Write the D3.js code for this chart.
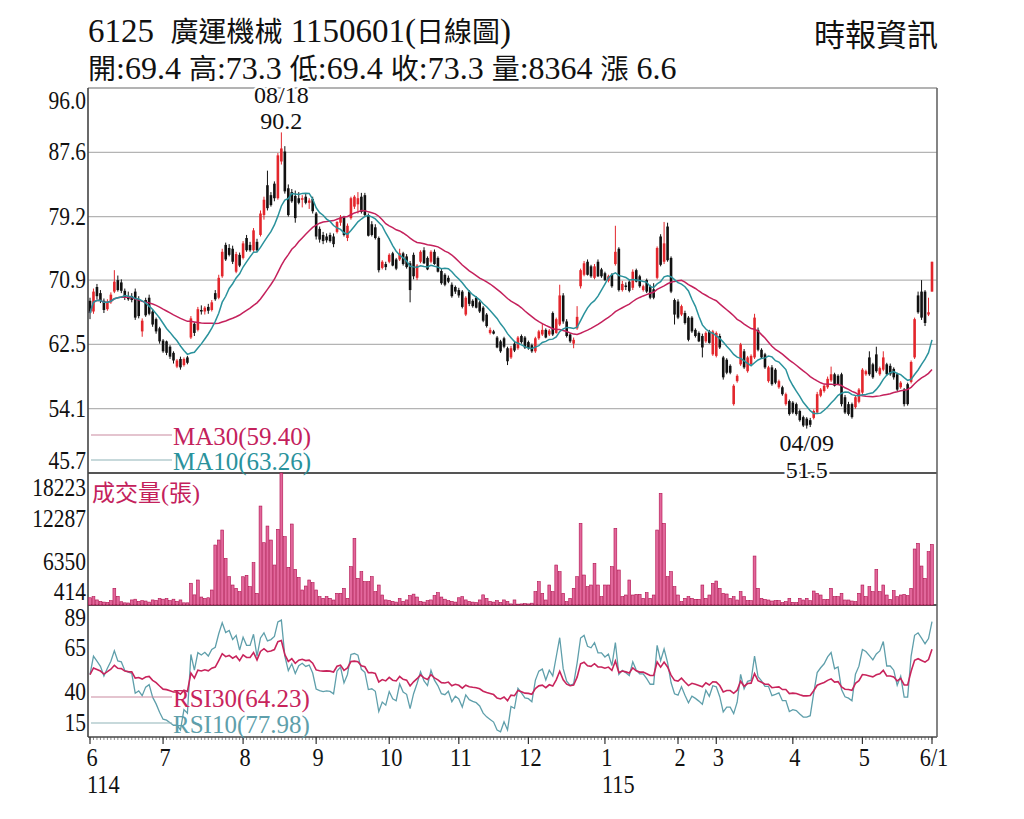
<!DOCTYPE html>
<html>
<head>
<meta charset="utf-8">
<script src="https://cdn.jsdelivr.net/npm/d3@7"></script>
<style>
  body { margin: 0; background: #fff; }
  svg { display: block; }
  text { font-family: "Liberation Serif", "Noto Sans CJK TC", serif; white-space: pre; }
</style>
</head>
<body>
<svg id="chart" width="1024" height="819"></svg>
<script>
// daily [open, high, low, close], 114/06/02 .. 115/06/01
var candles = [
  // 6
  [68.2,68.6,65.8,66.6],[66.8,69.8,66.5,69.4],[70.0,70.4,68.4,68.8],[69.2,69.6,67.9,68.2],[68.2,68.5,66.6,67.0],
  [67.1,68.4,66.9,68.0],[68.0,69.3,67.8,69.0],[69.4,72.2,69.2,70.7],[70.9,71.5,69.4,69.6],[70.6,71.0,69.2,69.5],
  [69.5,69.8,68.3,68.6],[68.8,69.4,68.2,68.4],[68.8,69.2,68.0,68.3],[69.4,69.8,65.7,66.0],[68.4,68.8,65.9,66.2],
  [64.2,65.9,63.5,65.6],[68.3,68.6,66.1,66.3],[68.6,69.0,66.3,66.5],[66.8,67.1,64.8,65.1],[65.8,66.0,63.9,64.2],
  [64.6,64.8,62.6,62.9],
  // 7
  [63.0,63.2,61.4,61.6],[62.9,63.0,61.1,61.4],[62.2,62.4,60.6,60.9],[61.4,61.6,60.0,60.4],[59.6,60.6,59.4,60.4],
  [60.6,60.9,59.2,59.5],[59.8,60.8,59.6,60.6],[60.8,61.0,59.9,60.1],[63.4,66.2,63.2,65.9],[65.2,65.4,63.6,64.0],
  [64.4,67.4,64.2,67.1],[67.0,67.6,66.4,66.8],[66.8,67.5,66.4,67.3],[67.4,67.8,66.5,66.9],[67.0,68.3,66.8,68.0],
  [69.2,69.6,68.2,68.4],[68.6,71.6,68.4,71.2],[71.4,75.0,71.2,74.6],[75.5,75.8,73.4,73.6],[75.1,75.6,74.0,74.2],
  [75.0,75.4,73.0,73.3],[72.0,74.6,71.8,74.3],[74.2,74.5,72.6,72.8],
  // 8
  [73.8,76.0,73.6,75.7],[76.4,76.8,74.6,74.8],[75.5,75.9,74.6,74.8],[74.8,77.7,74.6,77.4],[75.9,76.3,74.6,74.8],
  [76.8,80.0,76.6,79.6],[79.4,81.8,78.8,81.4],[83.3,85.2,80.0,80.3],[82.0,82.4,80.5,80.7],[83.5,83.8,81.2,81.6],
  [81.6,87.5,81.4,87.2],[86.4,90.2,86.0,88.1],[87.7,88.4,82.2,82.5],[82.9,83.4,79.2,79.4],[82.4,82.8,81.0,81.2],
  [81.9,82.6,78.4,79.0],[81.6,82.4,80.8,81.0],[81.4,82.0,80.4,81.6],[81.8,82.2,80.8,81.0],[81.0,81.6,80.2,81.3],
  [81.5,81.8,79.6,79.9],
  // 9
  [79.6,79.8,76.2,76.6],[77.6,77.9,75.8,76.2],[76.8,77.2,75.6,76.0],[76.6,77.0,75.8,76.1],[76.8,77.1,75.8,76.0],
  [76.6,77.0,75.2,75.6],[77.2,78.6,77.0,78.5],[78.4,79.4,78.0,79.1],[79.1,79.3,76.6,76.8],[76.4,78.3,76.0,78.0],
  [79.0,81.8,78.8,81.6],[80.5,82.0,80.2,81.8],[80.8,82.4,79.6,81.6],[81.8,82.3,79.6,79.8],[82.0,82.3,79.2,79.4],
  [79.4,79.6,76.6,76.7],[78.2,78.6,76.6,76.8],[77.8,78.2,76.2,76.4],[76.4,76.6,71.9,72.2],[72.5,73.5,72.3,73.3],
  [73.0,73.3,72.2,72.6],
  // 10
  [73.3,74.4,73.1,74.2],[74.4,74.6,72.7,72.8],[73.6,73.8,72.2,72.4],[73.6,75.0,73.4,74.4],[74.4,74.6,72.8,73.0],
  [74.0,74.3,72.4,72.6],[73.1,73.4,68.0,69.6],[74.2,74.5,71.0,71.4],[71.2,73.0,70.9,72.8],[73.3,74.8,73.1,74.6],
  [74.8,75.2,73.0,73.1],[73.8,74.0,72.2,72.3],[73.3,74.8,73.1,74.6],[74.6,74.9,72.9,73.0],[73.8,74.0,71.9,72.0],
  [72.1,72.4,70.3,70.5],[71.6,71.8,70.1,70.3],[71.2,71.5,70.5,70.7],[70.3,70.6,68.6,68.8],[70.0,70.2,69.1,69.4],
  // 11
  [69.6,69.9,68.6,68.9],[69.4,69.6,67.2,67.4],[66.4,68.8,66.2,68.6],[69.4,69.6,67.5,67.8],[68.2,68.4,67.3,67.5],
  [68.6,68.8,67.2,67.3],[68.0,68.2,66.6,66.8],[67.3,67.5,65.4,65.6],[66.4,66.6,64.7,64.9],[64.0,64.7,63.8,64.4],
  [64.2,64.4,63.8,63.9],[63.4,63.6,62.0,62.1],[62.9,63.1,61.4,61.6],[63.3,63.5,62.0,62.2],[62.0,62.2,59.8,60.3],
  [60.8,62.3,60.6,62.0],[62.6,62.8,61.5,61.7],[62.0,63.6,61.8,63.4],[63.6,63.8,62.6,62.8],[63.4,63.6,61.9,62.1],
  // 12
  [62.8,63.0,61.8,62.0],[62.4,62.6,61.4,61.6],[61.6,63.5,61.4,63.3],[63.3,64.4,63.1,64.2],[63.8,65.3,63.6,64.4],
  [64.4,64.6,63.3,63.4],[63.8,64.5,63.6,64.3],[66.6,66.8,63.6,63.8],[64.0,66.0,63.9,65.8],[65.1,70.3,64.9,68.9],
  [68.9,69.2,65.2,65.5],[65.5,65.8,63.4,63.6],[63.8,64.0,62.7,62.9],[62.6,63.4,62.0,63.1],[64.6,67.5,64.4,66.1],
  [70.1,72.4,69.8,72.2],[71.6,73.4,71.4,73.1],[73.3,73.6,71.5,71.6],[72.7,72.9,71.2,71.4],[71.2,73.0,71.0,72.7],
  [73.3,73.6,71.3,71.4],[72.3,72.5,71.2,71.4],
  // 1
  [71.8,72.0,70.8,70.9],[70.8,71.6,70.6,71.4],[71.6,71.8,69.9,70.1],[73.0,78.0,72.8,74.6],[75.0,75.2,69.4,69.6],
  [69.6,70.8,69.4,70.4],[70.2,70.6,69.6,70.0],[70.7,70.9,69.3,69.5],[69.9,72.3,69.6,72.0],[72.2,72.4,70.6,70.7],
  [71.4,71.6,69.9,70.1],[69.6,70.3,69.4,70.1],[70.9,71.1,69.2,69.4],[70.1,70.3,68.4,68.6],[69.7,70.5,68.4,68.6],
  [71.2,75.3,71.0,75.1],[76.6,76.9,72.7,72.9],[73.3,78.5,73.0,75.7],[77.9,78.4,73.3,73.5],[73.8,74.0,69.2,69.4],
  [68.3,68.5,65.1,66.4],
  // 2
  [68.1,68.4,65.8,66.0],[66.4,67.7,66.2,67.5],[66.6,66.9,65.1,65.3],[66.0,66.2,62.9,63.1],[66.0,66.2,64.0,64.2],
  [64.4,64.6,63.4,63.6],[64.0,64.2,62.8,62.9],[63.6,63.9,60.8,62.1],[62.9,64.2,62.7,64.0],[64.2,64.4,62.6,62.7],
  [61.2,64.4,61.0,64.2],
  // 3
  [61.0,64.2,60.8,64.0],[63.6,63.9,61.9,62.1],[60.8,61.0,57.9,58.2],[60.5,60.7,58.6,58.8],[59.7,59.9,58.6,58.8],
  [54.7,57.3,54.5,57.1],[57.7,58.6,57.5,58.4],[59.9,62.7,59.7,62.5],[61.6,61.9,59.3,59.5],[59.0,61.0,58.8,60.8],
  [59.9,61.2,59.7,61.0],[60.8,66.5,60.6,66.0],[64.4,64.7,61.6,61.8],[61.8,62.0,60.6,60.8],[61.2,61.4,59.3,59.5],
  [57.7,59.7,57.5,59.5],[59.5,59.8,57.1,57.3],[59.2,59.4,57.3,57.5],[56.9,57.9,56.7,57.7],[56.9,57.1,55.8,56.0],
  [54.7,56.2,54.5,56.0],[55.1,55.3,53.2,53.4],
  // 4
  [54.9,55.1,53.4,53.6],[54.7,54.9,53.2,53.4],[53.8,54.0,52.4,52.6],[53.0,53.2,51.7,51.9],[52.8,53.0,51.5,51.9],
  [52.6,52.9,51.7,52.0],[52.9,54.0,52.7,53.8],[53.6,56.3,53.4,56.0],[55.8,56.8,55.6,56.6],[56.4,57.3,56.2,57.1],
  [56.9,58.3,56.7,58.0],[57.8,59.6,57.6,58.6],[58.6,58.8,57.0,57.1],[58.4,58.6,57.2,57.3],[58.6,58.8,54.4,54.7],
  [55.6,55.9,53.4,53.6],[54.7,55.0,53.2,53.4],[54.7,54.9,52.8,53.0],[54.3,55.8,54.1,55.6],[55.0,56.8,54.8,56.6],
  // 5
  [56.2,59.4,56.0,59.2],[58.6,59.2,58.4,59.0],[60.8,61.6,58.4,58.6],[59.9,60.1,58.0,58.2],[61.2,62.2,58.8,59.0],
  [58.6,59.6,58.4,59.4],[59.2,61.6,59.0,60.8],[59.9,60.1,58.4,58.6],[59.7,60.0,58.4,58.6],[59.3,59.5,57.9,58.2],
  [58.6,58.8,56.4,56.6],[56.9,57.7,56.7,57.5],[56.6,56.8,54.4,54.7],[57.3,57.5,54.5,54.7],[57.6,60.4,57.4,60.2],
  [60.8,66.0,60.6,65.8],[68.9,69.4,66.5,66.7],[69.4,70.9,65.7,66.0],[69.4,69.6,64.9,65.3],[66.4,68.6,66.2,66.7],
  // 6/1
  [69.4,73.3,69.4,73.3]
];

// daily volume (張)
var volumes = [
  1000,1150,700,500,400,350,600,2300,1200,450,300,280,700,800,500,600,550,400,700,650,900,
  800,900,600,800,500,700,300,300,3000,1400,3450,1100,900,1000,2070,8280,8970,10350,6440,3910,2760,2300,1840,
  3900,4100,2530,5840,1610,13660,8600,10900,8970,5520,10450,18223,9430,5200,11180,4920,3800,2070,2620,3450,3080,
  2070,1150,920,1150,920,690,1610,1610,2300,920,5290,9200,3680,4600,3220,3220,3910,1840,2760,1380,700,
  650,500,400,900,500,700,1300,1500,1100,500,400,600,700,1300,1700,1100,800,600,500,400,
  1000,1150,700,500,400,350,700,1400,900,500,400,600,350,700,500,150,700,120,150,200,
  150,250,1840,3220,1610,690,2760,1840,5520,4600,1610,460,920,2300,3910,11270,4140,2530,2760,5750,2760,1150,
  2760,2760,5290,10580,4830,1150,1380,3450,1380,1470,1470,920,1700,920,1380,10350,15410,11270,3910,4600,2530,
  1380,460,920,1150,920,780,780,2760,920,1380,2990,
  3310,2300,1610,1520,920,1150,690,1840,1150,600,600,6760,2300,920,780,690,550,600,600,320,460,920,
  370,320,920,690,920,600,1930,1610,1380,780,780,2300,1150,1150,1610,690,690,550,460,1610,
  2760,1150,2530,1840,4920,1840,2760,1380,780,1980,1150,1380,1470,1290,2300,7730,8510,5380,3680,7360,
  8364
];

var monthLabels = ['6', '7', '8', '9', '10', '11', '12', '1', '2', '3', '4', '5', '6/1'];
var monthStart = [0, 21, 44, 65, 86, 106, 126, 148, 169, 180, 202, 222, 242];
var yearLabels = ['114', '115'];
var yearStart = [0, 148];

var priceTicks = [96.0, 87.6, 79.2, 70.9, 62.5, 54.1, 45.7];
var volTicks = [18223, 12287, 6350, 414];
var rsiTicks = [89, 65, 40, 15];

// last values as printed in the legends
var legendNames = ['MA30', 'MA10', 'RSI30', 'RSI10'];
var legendValues = ['59.40', '63.26', '64.23', '77.98'];

var highDate = '08/18';
var lowDate = '04/09';

var titleText = '6125  廣運機械 1150601(日線圖)';
var quoteText = '開:69.4 高:73.3 低:69.4 收:73.3 量:8364 漲 6.6';
var sourceText = '時報資訊';

// ---------------------------------------------------------------
var L = 88, R = 937;
var pTop = 88, pBot = 473, vBot = 605, rBot = 737;

var UP = '#e3262c', DOWN = '#111';
var MA30C = '#c4215c', MA10C = '#2a929c';
var RSI30C = '#c8245c', RSI10C = '#5f9fab';

var svg = d3.select('#chart');
var n = candles.length;
var closes = candles.map(function(d) { return d[3]; });

var x = d3.scaleLinear().domain([0, n - 1]).range([90, 932]);
var y = d3.scaleLinear().domain([45.7, 96.0]).range([pBot, pTop]);
var vy = d3.scaleLinear().domain([0, 18223]).range([vBot, pBot]);
var ry = d3.scaleLinear().domain([15, 89]).range([rBot, vBot]).clamp(true);

function movingAvg(len) {
  return closes.map(function(c, i) {
    return d3.mean(closes.slice(Math.max(0, i - len + 1), i + 1));
  });
}

function rsi(len) {
  // wilder smoothing, neutral start
  var up = 0.6, dn = 0.6;
  return closes.map(function(c, i) {
    if (i > 0) {
      var ch = c - closes[i - 1];
      up = (up * (len - 1) + Math.max(ch, 0)) / len;
      dn = (dn * (len - 1) + Math.max(-ch, 0)) / len;
    }
    return 100 * up / (up + dn);
  });
}

var ma30 = movingAvg(30), ma10 = movingAvg(10);
var rsi30 = rsi(30), rsi10 = rsi(10);

// mixed latin / cjk text
function richText(sel, str, latinSize, cjkSize) {
  var runs = str.match(/[\u3000-\u9fff\uff00-\uffef]+|[^\u3000-\u9fff\uff00-\uffef]+/g);
  runs.forEach(function(r) {
    var cjk = /[\u3000-\u9fff\uff00-\uffef]/.test(r);
    sel.append('tspan')
      .attr('font-family', cjk ? '"Noto Sans CJK TC", sans-serif' : '"Liberation Serif", serif')
      .attr('font-size', cjk ? cjkSize : latinSize)
      .text(r);
  });
  return sel;
}

function label(g, tx, ty, str, anchor, size, color, sx) {
  return g.append('text')
    .attr('transform', 'translate(' + tx + ',' + ty + ') scale(' + (sx || 0.86) + ',1)')
    .attr('text-anchor', anchor)
    .attr('font-size', size)
    .attr('fill', color || '#111')
    .text(str);
}

// header
richText(svg.append('text').attr('x', 88).attr('y', 42).attr('fill', '#111'), titleText, 33, 28);
richText(svg.append('text').attr('x', 88).attr('y', 79).attr('fill', '#111'), quoteText, 32, 28);
richText(svg.append('text').attr('x', 938).attr('y', 46).attr('text-anchor', 'end').attr('fill', '#111'), sourceText, 30, 31);

// grid
svg.append('g').selectAll('line')
  .data(priceTicks.slice(1, -1))
  .enter().append('line')
  .attr('x1', L).attr('x2', R)
  .attr('y1', function(d) { return y(d); })
  .attr('y2', function(d) { return y(d); })
  .attr('stroke', '#b4b4b4').attr('stroke-width', 1.3);

// frame
var frame = svg.append('g').attr('fill', 'none');
frame.append('line').attr('x1', L).attr('x2', R).attr('y1', pTop).attr('y2', pTop).attr('stroke', '#9a9a9a').attr('stroke-width', 1.3);
frame.append('line').attr('x1', L).attr('x2', R).attr('y1', pBot).attr('y2', pBot).attr('stroke', '#555').attr('stroke-width', 2);
frame.append('line').attr('x1', L).attr('x2', R).attr('y1', vBot).attr('y2', vBot).attr('stroke', '#555').attr('stroke-width', 2);
frame.append('line').attr('x1', L).attr('x2', R).attr('y1', rBot).attr('y2', rBot).attr('stroke', '#444').attr('stroke-width', 1.6);
frame.append('line').attr('x1', L).attr('x2', L).attr('y1', pTop).attr('y2', rBot).attr('stroke', '#444').attr('stroke-width', 1.6);
frame.append('line').attr('x1', R).attr('x2', R).attr('y1', pTop).attr('y2', rBot).attr('stroke', '#666').attr('stroke-width', 1.6);

// y labels
var yl = svg.append('g');
priceTicks.forEach(function(v) {
  var yy = Math.max(pTop + 13, Math.min(pBot - 12, y(v)));
  label(yl, 86, yy + 8, v.toFixed(1), 'end', 25);
});
volTicks.forEach(function(v) {
  var yy = Math.max(pBot + 15, Math.min(vBot - 13, vy(v) + 3));
  label(yl, 86, yy + 8, String(v), 'end', 25);
});
rsiTicks.forEach(function(v) {
  var yy = Math.max(vBot + 13, Math.min(rBot - 14, ry(v)));
  label(yl, 86, yy + 8, String(v), 'end', 25);
});

// x axis ticks + labels
var xa = svg.append('g');
xa.selectAll('line.day')
  .data(d3.range(n))
  .enter().append('line')
  .attr('x1', function(i) { return x(i); })
  .attr('x2', function(i) { return x(i); })
  .attr('y1', rBot).attr('y2', rBot + 3)
  .attr('stroke', '#555').attr('stroke-width', 0.7);
xa.selectAll('line.mon')
  .data(monthStart)
  .enter().append('line')
  .attr('x1', function(i) { return x(i); })
  .attr('x2', function(i) { return x(i); })
  .attr('y1', rBot).attr('y2', rBot + 7)
  .attr('stroke', '#333').attr('stroke-width', 1.2);
monthLabels.forEach(function(t, k) {
  label(xa, x(monthStart[k]) + 2, 766, t, 'middle', 26);
});
yearLabels.forEach(function(t, k) {
  label(xa, x(yearStart[k]) - 3, 793, t, 'start', 26);
});

// candles
var cg = svg.append('g');
var bw = 2.6;
cg.selectAll('line')
  .data(candles)
  .enter().append('line')
  .attr('x1', function(d, i) { return x(i); })
  .attr('x2', function(d, i) { return x(i); })
  .attr('y1', function(d) { return y(d[1]); })
  .attr('y2', function(d) { return y(d[2]); })
  .attr('stroke', function(d) { return d[3] >= d[0] ? UP : DOWN; })
  .attr('stroke-width', 1);
cg.selectAll('rect')
  .data(candles)
  .enter().append('rect')
  .attr('x', function(d, i) { return x(i) - bw / 2; })
  .attr('width', bw)
  .attr('y', function(d) { return y(Math.max(d[0], d[3])); })
  .attr('height', function(d) { return Math.max(1, Math.abs(y(d[0]) - y(d[3]))); })
  .attr('fill', function(d) { return d[3] >= d[0] ? UP : DOWN; });

// moving averages
var line = d3.line().x(function(d, i) { return x(i); });
svg.append('path').datum(ma30)
  .attr('d', line.y(function(d) { return y(d); }))
  .attr('fill', 'none').attr('stroke', MA30C).attr('stroke-width', 1.5);
svg.append('path').datum(ma10)
  .attr('d', line.y(function(d) { return y(d); }))
  .attr('fill', 'none').attr('stroke', MA10C).attr('stroke-width', 1.5);

// volume
svg.append('g').selectAll('rect')
  .data(volumes)
  .enter().append('rect')
  .attr('x', function(d, i) { return x(i) - 1.4; })
  .attr('width', 2.8)
  .attr('y', function(d) { return vy(d); })
  .attr('height', function(d) { return vBot - vy(d); })
  .attr('fill', '#e2679b').attr('stroke', '#b0104e').attr('stroke-width', 0.6);

// rsi
svg.append('path').datum(rsi10)
  .attr('d', line.y(function(d) { return ry(d); }))
  .attr('fill', 'none').attr('stroke', RSI10C).attr('stroke-width', 1.3);
svg.append('path').datum(rsi30)
  .attr('d', line.y(function(d) { return ry(d); }))
  .attr('fill', 'none').attr('stroke', RSI30C).attr('stroke-width', 1.6);

// legends
var lg = svg.append('g');
var legendY = [435, 460, 697, 723];
var legendColor = [MA30C, MA10C, RSI30C, RSI10C];
var legendLine = ['#c98aa0', '#8fb3b8', '#c98aa0', '#8fb3b8'];
legendNames.forEach(function(nm, k) {
  lg.append('line').attr('x1', L + 3).attr('x2', 172).attr('y1', legendY[k]).attr('y2', legendY[k])
    .attr('stroke', legendLine[k]).attr('stroke-width', 1.2);
  lg.append('text').attr('x', 173).attr('y', legendY[k] + 10)
    .attr('font-size', 25).attr('fill', legendColor[k])
    .text(nm + '(' + legendValues[k] + ')');
});
richText(lg.append('text').attr('x', 92).attr('y', 501).attr('fill', MA30C), '成交量(張)', 24, 23);

// high / low notes
var hi = d3.maxIndex(candles, function(d) { return d[1]; });
var lo = d3.minIndex(candles, function(d) { return d[2]; });
var notes = svg.append('g').attr('text-anchor', 'middle').attr('font-size', 24).attr('fill', '#111')
  .attr('stroke', '#fff').attr('stroke-width', 5).attr('paint-order', 'stroke');
notes.append('text').attr('x', x(hi)).attr('y', y(candles[hi][1]) - 29).text(highDate);
notes.append('text').attr('x', x(hi)).attr('y', y(candles[hi][1]) - 3).text(candles[hi][1].toFixed(1));
notes.append('text').attr('x', x(lo)).attr('y', y(candles[lo][2]) + 22).text(lowDate);
notes.append('text').attr('x', x(lo)).attr('y', y(candles[lo][2]) + 49).text(candles[lo][2].toFixed(1));
</script>
</body>
</html>
